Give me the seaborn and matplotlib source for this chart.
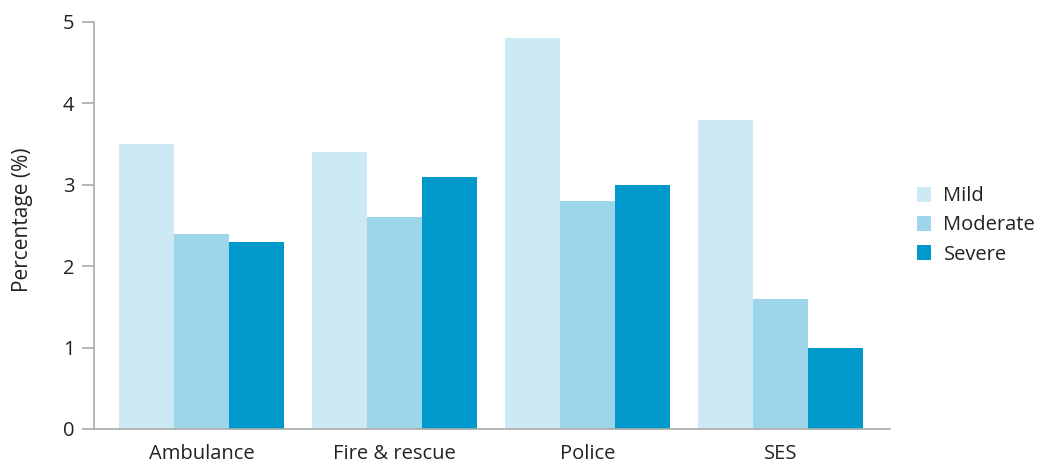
import matplotlib
matplotlib.use("Agg")
import matplotlib.pyplot as plt
import seaborn as sns
import pandas as pd

categories = ["Ambulance", "Fire & rescue", "Police", "SES"]
severity = ["Mild", "Moderate", "Severe"]
mild = [3.5, 3.4, 4.8, 3.8]
moderate = [2.4, 2.6, 2.8, 1.6]
severe = [2.3, 3.1, 3.0, 1.0]
colors = ["#cdeaf4", "#9dd6ea", "#0099cc"]
yticks = [0, 1, 2, 3, 4, 5]

rows = []
for s, vals in zip(severity, [mild, moderate, severe]):
    for c, v in zip(categories, vals):
        rows.append({"Service": c, "Severity": s, "Value": v})
df = pd.DataFrame(rows)

sns.set_theme(style="white")
plt.rcParams["font.family"] = ["Open Sans", "DejaVu Sans"]

FS = 14.5
fig = plt.figure(figsize=(10.43, 4.66), dpi=100)
ax = fig.add_axes([0.0901, 0.0794, 0.7632, 0.8734])
sns.barplot(data=df, x="Service", y="Value", hue="Severity", order=categories,
            hue_order=severity, palette=colors, width=0.855, saturation=1,
            linewidth=0, ax=ax, legend=True)

ax.set_xlim(-0.557, 3.567)
ax.set_ylim(0, 5)
ax.set_yticks(yticks)
ax.set_xlabel("")
ax.set_ylabel("Percentage (%)", fontsize=15, color="#222222")
ax.yaxis.set_label_coords(-0.077, 0.513)
for sp in ["top", "right"]:
    ax.spines[sp].set_visible(False)
for sp in ["left", "bottom"]:
    ax.spines[sp].set_color("#aaaaaa")
    ax.spines[sp].set_linewidth(1.2)
ax.tick_params(axis="y", length=9, color="#aaaaaa", width=1.2, labelsize=FS,
               labelcolor="#222222", left=True, pad=5)
ax.tick_params(axis="x", length=0, labelsize=FS, labelcolor="#222222", pad=11)

leg = ax.legend(loc="center left", bbox_to_anchor=(1.011, 0.5), frameon=False,
                fontsize=FS, handlelength=0.72, handleheight=0.72,
                handletextpad=0.6, labelspacing=0.45, title=None)
for t in leg.get_texts():
    t.set_color("#222222")

fig.savefig("out.png", dpi=100)
